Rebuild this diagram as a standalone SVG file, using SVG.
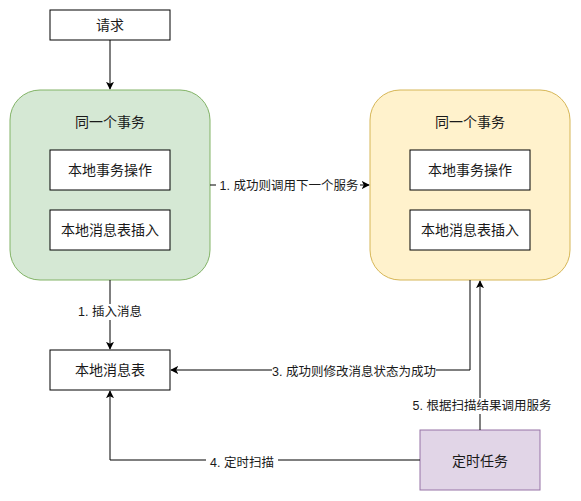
<svg xmlns="http://www.w3.org/2000/svg" width="581" height="501" viewBox="0 0 581 501">
<style>
text{font-family:"Liberation Sans","Noto Sans CJK SC",sans-serif;fill:#1a1a1a;text-anchor:middle;dominant-baseline:central}
.t{font-size:14px}
.l{font-size:12.5px}
.box{fill:#fff;stroke:#000;stroke-width:1}
.edge{fill:none;stroke:#000;stroke-width:1}
.bg{fill:#fff}
</style>
<defs>
<marker id="arr" viewBox="0 0 10 10" refX="9" refY="5" markerWidth="8" markerHeight="8" markerUnits="userSpaceOnUse" orient="auto">
<path d="M0,0 L10,5 L0,10 L2.5,5 Z" fill="#000"/>
</marker>
</defs>
<g id="req"><rect class="box" x="50" y="10" width="120" height="30"/><text class="t" x="110" y="25">请求</text></g>
<g id="svcA">
<rect x="10" y="90" width="200" height="190" rx="30" fill="#d5e8d4" stroke="#82b366"/>
<text class="t" x="110" y="122">同一个事务</text>
<rect class="box" x="50" y="150" width="120" height="40"/><text class="t" x="110" y="170">本地事务操作</text>
<rect class="box" x="50" y="210" width="120" height="40"/><text class="t" x="110" y="230">本地消息表插入</text>
</g>
<g id="svcB">
<rect x="370" y="90" width="200" height="190" rx="30" fill="#fff2cc" stroke="#d6b656"/>
<text class="t" x="470" y="122">同一个事务</text>
<rect class="box" x="410" y="150" width="120" height="40"/><text class="t" x="470" y="170">本地事务操作</text>
<rect class="box" x="410" y="210" width="120" height="40"/><text class="t" x="470" y="230">本地消息表插入</text>
</g>
<g id="msgTable"><rect class="box" x="50" y="350" width="120" height="40"/><text class="t" x="110" y="370">本地消息表</text></g>
<g id="timer"><rect x="420" y="430" width="120" height="60" fill="#e1d5e7" stroke="#9673a6"/><text class="t" x="480" y="461">定时任务</text></g>
<g id="edges">
<path class="edge" d="M110,40 V89" marker-end="url(#arr)"/>
<path class="edge" d="M210,185 H369" marker-end="url(#arr)"/>
<rect class="bg" x="216" y="178" width="144" height="16"/>
<text class="l" x="289" y="186">1. 成功则调用下一个服务</text>
<path class="edge" d="M110,280 V349" marker-end="url(#arr)"/>
<rect class="bg" x="77" y="304" width="66" height="16"/>
<text class="l" x="110" y="312">1. 插入消息</text>
<path class="edge" d="M470,280 V370 H171" marker-end="url(#arr)"/>
<rect class="bg" x="272" y="364" width="164" height="16"/>
<text class="l" x="354" y="372">3. 成功则修改消息状态为成功</text>
<path class="edge" d="M480,430 V281" marker-end="url(#arr)"/>
<rect class="bg" x="413" y="398" width="138" height="16"/>
<text class="l" x="482" y="406">5. 根据扫描结果调用服务</text>
<path class="edge" d="M420,460 H110 V391" marker-end="url(#arr)"/>
<rect class="bg" x="206" y="455" width="72" height="16"/>
<text class="l" x="242" y="463">4. 定时扫描</text>
</g>
</svg>
